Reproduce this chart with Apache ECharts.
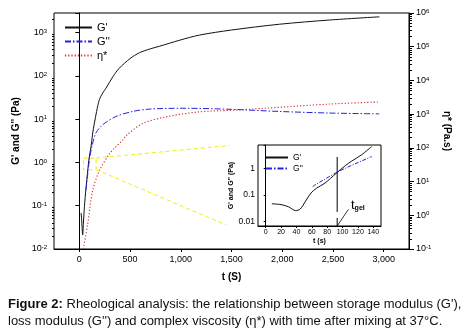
<!DOCTYPE html>
<html>
<head>
<meta charset="utf-8">
<style>
html, body { margin: 0; padding: 0; background: #fff; }
#chart { width: 463px; height: 333px; }
</style>
<script src="https://cdn.jsdelivr.net/npm/echarts@6/dist/echarts.min.js"></script>
</head>
<body>
<div id="chart"></div>
<script>
// main plot: G' (left axis)
var gpT = [17, 22, 33, 40, 50, 65, 80, 95, 115, 130, 148, 170, 197, 230, 263, 330, 394, 500, 592, 700, 789, 986, 1183, 1500, 1972, 2465, 2958];
var gpVal = [0.068, 0.05, 0.021, 0.04, 0.095, 0.25, 0.56, 1.2, 2.3, 4.5, 8, 15, 28, 40, 52, 95, 150, 250, 340, 420, 480, 660, 870, 1140, 1550, 1940, 2300];
// main plot: G'' (left axis)
var gppT = [66, 99, 125, 164, 230, 362, 526, 690, 1019, 1500, 1972, 2465, 2958];
var gppVal = [0.23, 1.15, 2.4, 4.8, 7.4, 11.5, 15, 17, 17.8, 16.8, 15, 13.8, 13.2];
// main plot: eta* (right axis)
var etaT = [39, 82, 131, 197, 296, 350, 427, 460, 624, 855, 1183, 1500, 1808, 2465, 2958];
var etaVal = [0.1, 0.55, 5.4, 21, 66, 100, 170, 230, 525, 830, 1170, 1300, 1480, 1990, 2300];
// yellow zoom marks (left axis)
var zoomT = [40, 165, 165, 40, 40, '-', 165, 1479, '-', 165, 1446];
var zoomVal = [1.26, 1.26, 0.68, 0.68, 1.26, '-', 1.26, 2.45, '-', 0.68, 0.036];
// inset
var inGpT = [8, 20, 30, 39, 45, 52, 59, 66, 77, 92, 104, 112, 125, 138];
var inGpVal = [0.047, 0.044, 0.036, 0.026, 0.03, 0.06, 0.12, 0.18, 0.28, 0.67, 1.3, 1.9, 3.3, 6.7];
var inGppT = [61, 94, 138];
var inGppVal = [0.21, 0.75, 2.8];
var gelT = [93, 93];
var gelVal = [2.7, 0.0069];
var gelArrowT = [93, 107.6];
var gelArrowVal = [0.0069, 0.029];

// tick labels
var xTicks = [0, 500, 1000, 1500, 2000, 2500, 3000];
var inXTicks = [0, 20, 40, 60, 80, 100, 120, 140];

function pairs(t, v) {
	var out = [];
	for (var i = 0; i < t.length; i++) {
		out.push(t[i] === '-' ? '-' : [t[i], v[i]]);
	}
	return out;
}
// minor ticks 2..9 x 10^n
function minors(a, b) {
	var out = [];
	for (var e = a; e < b; e++) {
		for (var k = 2; k < 10; k++) out.push(k * Math.pow(10, e));
	}
	return out;
}
function powLabel(v) {
	var e = Math.log(v) / Math.LN10;
	var r = Math.round(e);
	if (Math.abs(e - r) > 0.01) return '';
	return '{b|10}{e|' + (r < 0 ? '-' + (-r) : r) + '}';
}
var powRich = {
	b: { fontSize: 9, color: '#000', fontFamily: 'Liberation Sans' },
	e: { fontSize: 6, color: '#000', fontFamily: 'Liberation Sans', verticalAlign: 'top' }
};

var dom = document.getElementById('chart');
var myChart = echarts.init(dom, null, { renderer: 'canvas' });
var font = 'Liberation Sans';
var black = '#000';

var option = {
	animation: false,
	textStyle: { fontFamily: font },
	grid: [
		{ left: 54, top: 13, width: 355, height: 236, show: true, borderColor: black, borderWidth: 1 },
		{ left: 258, top: 145, width: 123, height: 81, show: true, borderColor: black, borderWidth: 1, backgroundColor: '#fff' }
	],
	legend: [
		{
			orient: 'vertical', left: 59, top: 17, itemWidth: 27, itemHeight: 10, itemGap: 3,
			itemStyle: { opacity: 0 },
			textStyle: { fontSize: 11, color: black, fontFamily: font },
			data: ["G'", "G''", 'η*']
		},
		{
			orient: 'vertical', left: 260, top: 148, itemWidth: 22, itemHeight: 8, itemGap: 2,
			itemStyle: { opacity: 0 },
			textStyle: { fontSize: 8.5, color: black, fontFamily: font },
			data: ["G'", "G''"]
		}
	],
	xAxis: [
		{
			gridIndex: 0, type: 'value', min: -250, max: 3250,
			axisLine: { lineStyle: { color: black } },
			axisTick: { customValues: xTicks, length: 3, lineStyle: { color: black } },
			axisLabel: { customValues: xTicks, fontSize: 9, color: black, margin: 6 },
			splitLine: { show: false },
			name: 't (S)', nameLocation: 'middle', nameGap: 23,
			nameTextStyle: { fontSize: 10, fontWeight: 'bold', color: black }
		},
		{
			gridIndex: 1, type: 'value', min: -10, max: 150,
			axisLine: { lineStyle: { color: black } },
			axisTick: { customValues: inXTicks, length: 2, lineStyle: { color: black } },
			axisLabel: { customValues: inXTicks, fontSize: 7, color: black, margin: 3 },
			splitLine: { show: false },
			name: 't (s)', nameLocation: 'middle', nameGap: 12,
			nameTextStyle: { fontSize: 7, fontWeight: 'bold', color: black }
		}
	],
	yAxis: [
		{
			gridIndex: 0, type: 'log', position: 'left', min: 0.01, max: 2818,
			axisLine: { show: true, lineStyle: { color: black } },
			axisTick: { length: 4, lineStyle: { color: black } },
			axisLabel: { formatter: powLabel, rich: powRich, margin: 7 },
			splitLine: { show: false },
			name: "G' and G'' (Pa)", nameLocation: 'middle', nameRotate: 90, nameGap: 31,
			nameTextStyle: { fontSize: 10, fontWeight: 'bold', color: black }
		},
		{
			gridIndex: 0, type: 'log', position: 'right', min: 0.1, max: 1e6,
			axisLine: { show: true, lineStyle: { color: black } },
			axisTick: { length: 5, lineStyle: { color: black } },
			axisLabel: { formatter: powLabel, rich: powRich, margin: 7 },
			splitLine: { show: false },
			name: 'η* (Pa.s)', nameLocation: 'middle', nameRotate: -90, nameGap: 25,
			nameTextStyle: { fontSize: 10, fontWeight: 'bold', color: black }
		},
		{ // left minor ticks
			gridIndex: 0, type: 'log', position: 'left', min: 0.01, max: 2818,
			axisLine: { show: false }, axisLabel: { show: false }, splitLine: { show: false },
			axisTick: { customValues: minors(-2, 4).filter(function(v) { return v <= 2818; }), length: 2, lineStyle: { color: black } }
		},
		{ // right minor ticks
			gridIndex: 0, type: 'log', position: 'right', min: 0.1, max: 1e6,
			axisLine: { show: false }, axisLabel: { show: false }, splitLine: { show: false },
			axisTick: { customValues: minors(-1, 6), length: 3, lineStyle: { color: black } }
		},
		{ // inset
			gridIndex: 1, type: 'log', min: 0.0069, max: 7.6,
			axisLine: { show: true, lineStyle: { color: black } },
			axisTick: { length: 2, lineStyle: { color: black } },
			axisLabel: {
				fontSize: 8.5, color: black, margin: 3,
				formatter: function(v) {
					var e = Math.log(v) / Math.LN10;
					if (Math.abs(e - Math.round(e)) > 0.01) return '';
					return String(v);
				}
			},
			splitLine: { show: false },
			name: "G' and G'' (Pa)", nameLocation: 'middle', nameRotate: 90, nameGap: 19,
			nameTextStyle: { fontSize: 7, fontWeight: 'bold', color: black }
		}
	],
	series: [
		{
			name: "G'", type: 'line', xAxisIndex: 0, yAxisIndex: 0, data: pairs(gpT, gpVal),
			symbol: 'none', smooth: 0.3, lineStyle: { color: '#111', width: 1 }, itemStyle: { color: '#111' }
		},
		{
			name: "G''", type: 'line', xAxisIndex: 0, yAxisIndex: 0, data: pairs(gppT, gppVal),
			symbol: 'none', smooth: 0.3, lineStyle: { color: '#2222dd', width: 1, type: [6, 2, 1.5, 2] }, itemStyle: { color: '#2222dd' }
		},
		{
			name: 'η*', type: 'line', xAxisIndex: 0, yAxisIndex: 1, data: pairs(etaT, etaVal),
			symbol: 'none', smooth: 0.3, lineStyle: { color: '#d42a2a', width: 1.1, type: [1.2, 2] }, itemStyle: { color: '#d42a2a' }
		},
		{
			name: 'zoom', type: 'line', xAxisIndex: 0, yAxisIndex: 0, data: pairs(zoomT, zoomVal),
			symbol: 'none', connectNulls: false, lineStyle: { color: '#f0f000', width: 1, type: [4, 3] }
		},
		{
			name: "G'", type: 'line', xAxisIndex: 1, yAxisIndex: 4, data: pairs(inGpT, inGpVal),
			symbol: 'none', smooth: 0.3, lineStyle: { color: '#111', width: 1 }
		},
		{
			name: "G''", type: 'line', xAxisIndex: 1, yAxisIndex: 4, data: pairs(inGppT, inGppVal),
			symbol: 'none', smooth: 0.3, lineStyle: { color: '#2222dd', width: 1, type: [4, 1.5, 1, 1.5] }
		},
		{
			name: 'tgel', type: 'line', xAxisIndex: 1, yAxisIndex: 4, data: pairs(gelT, gelVal),
			symbol: 'none', lineStyle: { color: black, width: 1, type: [55, 6] }
		},
		{
			name: 'tgelArrow', type: 'line', xAxisIndex: 1, yAxisIndex: 4, data: pairs(gelArrowT, gelArrowVal),
			symbol: 'none', lineStyle: { color: black, width: 0.8 }
		}
	],
	graphic: [
		{
			type: 'text', left: 351, top: 199, z: 100,
			style: {
				text: '{t|t}{s|gel}',
				rich: {
					t: { fontSize: 13, fill: black, fontFamily: font },
					s: { fontSize: 7, fontWeight: 'bold', fill: black, fontFamily: font, verticalAlign: 'bottom' }
				}
			}
		},
		{
			type: 'text', left: 8, top: 296,
			style: {
				text: "{b|Figure 2:} Rheological analysis: the relationship between storage modulus (G'),\nloss modulus (G'') and complex viscosity (η*) with time after mixing at 37°C.",
				fontSize: 13, fontFamily: font, fill: '#111', lineHeight: 17,
				rich: { b: { fontSize: 13, fontWeight: 'bold', fontFamily: font, fill: '#111', lineHeight: 17 } }
			}
		}
	]
};

myChart.setOption(option, true);
</script>
</body>
</html>
